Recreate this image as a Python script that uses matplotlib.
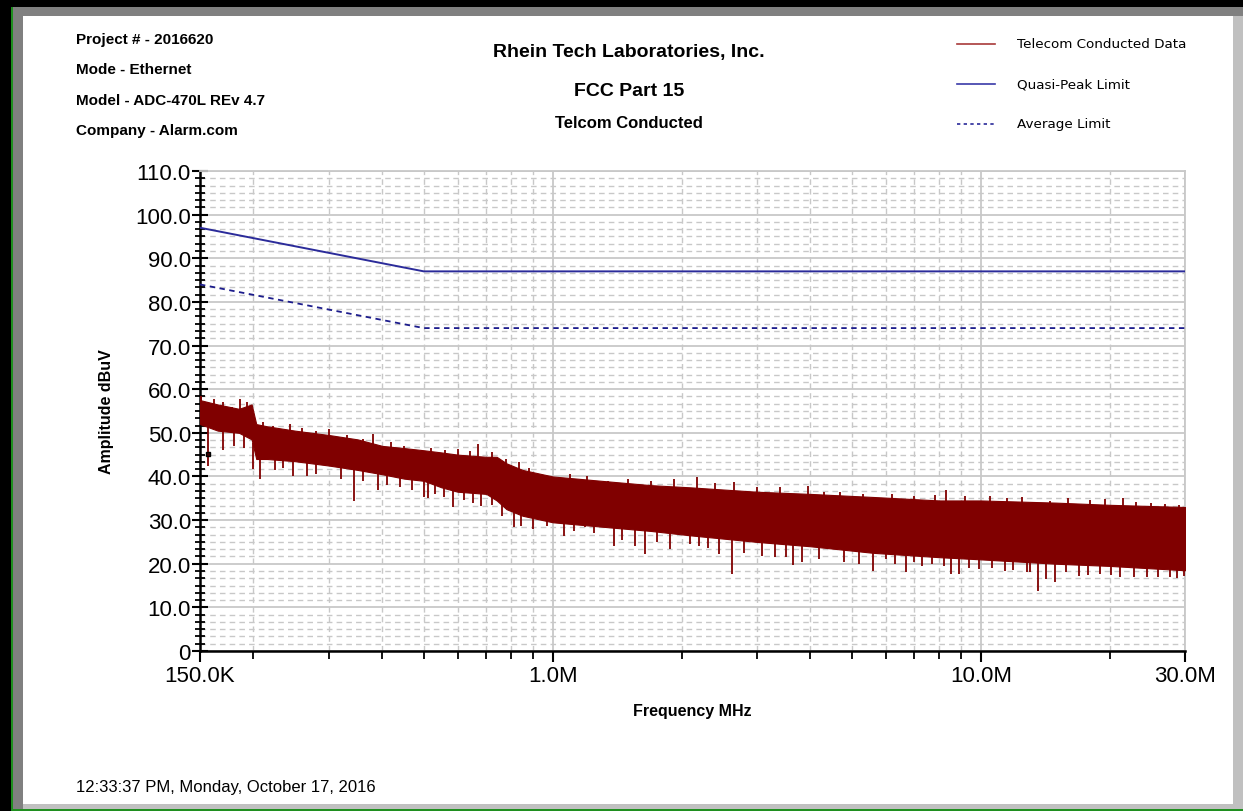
import numpy as np
import matplotlib.pyplot as plt
from matplotlib.patches import Rectangle
from matplotlib.lines import Line2D
from matplotlib.ticker import FixedLocator, FuncFormatter, AutoMinorLocator, NullFormatter

plt.rcParams['font.family'] = ['Liberation Sans', 'DejaVu Sans']

# limit lines (MHz, dBuV)
qp_freq = [0.15, 0.5, 30.0]
qp_level = [97.0, 87.0, 87.0]
avg_freq = [0.15, 0.5, 30.0]
avg_level = [84.0, 74.0, 74.0]

env_freq = [0.150, 0.165, 0.185, 0.198, 0.203, 0.215, 0.25, 0.30, 0.35, 0.40, 0.45,
            0.50, 0.55, 0.60, 0.70, 0.74, 0.78, 0.85, 1.0, 1.3, 1.7, 2.1, 3.0, 4.0,
            5.6, 8.0, 10.0, 15.0, 20.0, 30.0]
env_upper = [57.5, 56.5, 55.5, 56.5, 52.0, 51.5, 50.5, 49.5, 48.5, 47.0, 46.5,
             46.0, 45.5, 45.0, 44.5, 44.5, 43.0, 41.5, 40.0, 39.0, 38.0, 37.5, 36.5, 36.0,
             35.3, 34.5, 34.5, 34.0, 33.5, 33.0]
env_lower = [52.0, 50.5, 50.0, 48.5, 44.0, 44.0, 43.5, 42.5, 41.5, 40.5, 39.5,
             39.0, 37.5, 36.5, 36.0, 34.5, 32.5, 31.0, 29.5, 28.5, 27.5, 26.5, 25.0, 24.0,
             22.5, 21.5, 21.0, 20.0, 19.5, 18.5]

# downward spikes (MHz, dBuV)
down_freq = [0.1566, 0.17, 0.18, 0.19, 0.200, 0.207, 0.225, 0.235, 0.248, 0.267, 0.28,
             0.32, 0.343, 0.36, 0.39, 0.41, 0.44, 0.47, 0.50, 0.51, 0.53, 0.558, 0.584,
             0.62, 0.65, 0.68, 0.72, 0.76, 0.81, 0.845, 0.9, 0.97, 1.06, 1.12, 1.19, 1.25,
             1.39, 1.45, 1.56, 1.64, 1.75, 1.88, 2.09, 2.2, 2.3, 2.45, 2.63, 2.8, 3.09,
             3.30, 3.5, 3.64, 3.83, 4.2, 4.5, 4.8, 5.2, 5.6, 6.0, 6.3, 6.7, 7.0, 7.3, 7.7,
             8.2, 8.5, 8.9, 9.4, 9.9, 10.6, 11.4, 11.9, 12.8, 13.0, 13.6, 14.2, 14.9,
             15.8, 17.0, 17.8, 19.0, 20.2, 21.2, 22.8, 24.5, 26.0, 27.7, 28.8, 29.8]
down_level = [42.5, 46.0, 47.0, 46.5, 41.7, 39.4, 41.5, 42.0, 40.0, 40.0, 40.5,
              39.5, 34.4, 39.0, 37.0, 38.0, 37.5, 37.0, 35.2, 35.0, 36.0, 35.3, 33.0,
              34.5, 34.0, 33.2, 33.5, 31.0, 28.4, 28.6, 28.0, 28.6, 26.4, 27.5, 28.4, 27.0,
              24.0, 25.5, 24.0, 22.2, 25.0, 23.4, 24.5, 24.0, 23.5, 22.2, 17.6, 22.5, 21.8,
              21.5, 21.5, 19.7, 20.4, 21.0, 23.4, 20.5, 20.0, 18.3, 21.0, 20.0, 18.0, 20.4, 19.5, 19.9,
              19.5, 17.6, 17.6, 19.0, 18.8, 19.0, 18.3, 18.5, 18.0, 18.0, 13.7, 16.5, 15.8,
              18.0, 17.2, 17.5, 17.6, 17.5, 17.0, 17.0, 17.0, 17.0, 17.0, 16.8, 17.2]

# upward spikes (MHz, dBuV)
up_freq = [0.151, 0.157, 0.162, 0.17, 0.178, 0.186, 0.193, 0.21, 0.222, 0.244, 0.26,
           0.28, 0.30, 0.33, 0.36, 0.38, 0.42, 0.45, 0.52, 0.56, 0.60, 0.64, 0.67, 0.72,
           0.78, 0.835, 0.88, 0.99, 1.1, 1.2, 1.35, 1.5, 1.7, 1.92, 2.17, 2.4, 2.65, 3.0,
           3.4, 3.95, 4.3, 4.7, 5.3, 6.2, 7.0, 7.8, 8.3, 9.2, 10.5, 11.5, 12.5, 14.5, 16.0,
           18.0, 19.5, 21.5, 23.0, 25.0, 27.0, 29.0]
up_level = [58.4, 57.0, 57.7, 57.0, 56.0, 57.7, 57.0, 52.5, 51.5, 52.0, 51.0,
            50.5, 50.9, 49.5, 48.5, 49.7, 48.0, 47.0, 46.5, 46.0, 46.3, 45.8, 47.4, 45.5,
            44.0, 43.3, 42.0, 39.9, 40.5, 40.0, 39.0, 39.5, 39.0, 39.4, 39.9, 38.5, 38.7, 37.5,
            37.5, 37.8, 36.5, 36.4, 36.0, 36.0, 35.5, 35.8, 37.0, 35.5, 35.5, 35.0, 35.2, 34.4, 35.0,
            34.5, 34.8, 35.0, 34.2, 34.0, 33.8, 33.5]

marker_freq = [0.1566]
marker_level = [45.2]

x_major = [0.15, 1.0, 10.0, 30.0]
x_major_labels = ['150.0K', '1.0M', '10.0M', '30.0M']
x_minor = [0.2, 0.3, 0.4, 0.5, 0.6, 0.7, 0.8, 0.9,
           2, 3, 4, 5, 6, 7, 8, 9, 20]

W, H = 1243, 812
fig = plt.figure(figsize=(W / 100, H / 100), dpi=100)
fig.patch.set_facecolor('white')


def px_rect(x0, y0, x1, y1, color):
    fig.add_artist(Rectangle((x0 / W, 1 - y1 / H), (x1 - x0) / W, (y1 - y0) / H,
                             transform=fig.transFigure, facecolor=color, edgecolor='none', zorder=0))


# window frame
px_rect(0, 0, W, 8, 'black')
px_rect(0, 0, 11, H, 'black')
px_rect(11, 8, 13, H, '#1f8f1f')
px_rect(13, 8, W, 17, '#808080')
px_rect(13, 17, 23, H, '#808080')
px_rect(1233, 17, W, H, '#c0c0c0')
px_rect(23, 805, W, H, '#c0c0c0')
px_rect(13, 810, W, H, '#1f8f1f')

ax = fig.add_axes([200 / W, 1 - 652 / H, 985 / W, 480 / H])
ax.set_xscale('log')
ax.set_xlim(0.15, 30.0)
ax.set_ylim(0, 110)

grid_c = '#c8c8c8'
ax.set_xticks(x_major)
ax.set_xticklabels(x_major_labels)
ax.xaxis.set_minor_locator(FixedLocator(x_minor))
ax.xaxis.set_minor_formatter(NullFormatter())
ax.set_yticks(np.arange(0, 111, 10))
ax.yaxis.set_major_formatter(FuncFormatter(lambda v, p: '0' if v == 0 else '%.1f' % v))
ax.yaxis.set_minor_locator(AutoMinorLocator(6))

ax.grid(which='major', color=grid_c, lw=1.3, ls='-')
ax.grid(which='minor', color=grid_c, lw=1.0, ls=(0, (4, 3)))
ax.set_axisbelow(True)

ax.tick_params(axis='y', which='major', direction='inout', length=11, width=1.5, labelsize=16, pad=1)
ax.tick_params(axis='y', which='minor', direction='inout', length=7, width=1.3)
ax.tick_params(axis='x', which='major', direction='out', length=8, width=1.5, labelsize=16, pad=2)
ax.tick_params(axis='x', which='minor', direction='out', length=6, width=1.3)

for s in ['left', 'bottom']:
    ax.spines[s].set_linewidth(1.8)
    ax.spines[s].set_color('black')
for s in ['top', 'right']:
    ax.spines[s].set_linewidth(1.3)
    ax.spines[s].set_color(grid_c)

data_c = '#800000'
lf = np.log10(env_freq)
ax.fill_between(env_freq, env_lower, env_upper, color=data_c, lw=0.8, edgecolor=data_c, zorder=3)
down_top = np.interp(np.log10(down_freq), lf, env_lower) + 1.0
ax.vlines(down_freq, down_level, down_top, color=data_c, lw=1.3, zorder=3)
up_bot = np.interp(np.log10(up_freq), lf, env_upper) - 1.0
ax.vlines(up_freq, up_bot, up_level, color=data_c, lw=1.3, zorder=3)
ax.plot(marker_freq, marker_level, ls='none', marker='s', ms=3.5, mfc='#400000', mec='black', zorder=4)

blue = '#2b2b9a'
ax.plot(qp_freq, qp_level, color=blue, lw=1.4, zorder=4)
ax.plot(avg_freq, avg_level, color='#1c1c8c', lw=1.3, ls=(0, (3, 2.5)), zorder=4)

ax.set_xlabel('Frequency MHz', fontsize=11.5, fontweight='bold', labelpad=12)
ax.set_ylabel('Amplitude dBuV', fontsize=11.5, fontweight='bold', labelpad=15)


def ftext(x, y, s, **kw):
    fig.text(x / W, 1 - y / H, s, **kw)


for i, s in enumerate(['Project # - 2016620', 'Mode - Ethernet',
                       'Model - ADC-470L REv 4.7', 'Company - Alarm.com']):
    ftext(76, 40 + 30.3 * i, s, fontsize=11, fontweight='bold', va='center', ha='left')

ftext(629, 52, 'Rhein Tech Laboratories, Inc.', fontsize=14, fontweight='bold', ha='center', va='center')
ftext(629, 92, 'FCC Part 15', fontsize=14, fontweight='bold', ha='center', va='center')
ftext(629, 124, 'Telcom Conducted', fontsize=12, fontweight='bold', ha='center', va='center')

legend_items = [('Telecom Conducted Data', '#a83a3a', '-'),
                ('Quasi-Peak Limit', '#3a3aa8', '-'),
                ('Average Limit', '#2a2a9a', (0, (2, 2)))]
for i, (lab, c, ls) in enumerate(legend_items):
    y = 45 + 40 * i
    fig.add_artist(Line2D([957 / W, 995 / W], [1 - y / H, 1 - y / H], color=c, lw=1.2, ls=ls,
                          transform=fig.transFigure))
    ftext(1017, y, lab, fontsize=9.7, family='DejaVu Sans', va='center', ha='left')

ftext(76, 788, '12:33:37 PM, Monday, October 17, 2016', fontsize=12, va='center', ha='left')

fig.savefig('out.png', dpi=100, facecolor='white')
